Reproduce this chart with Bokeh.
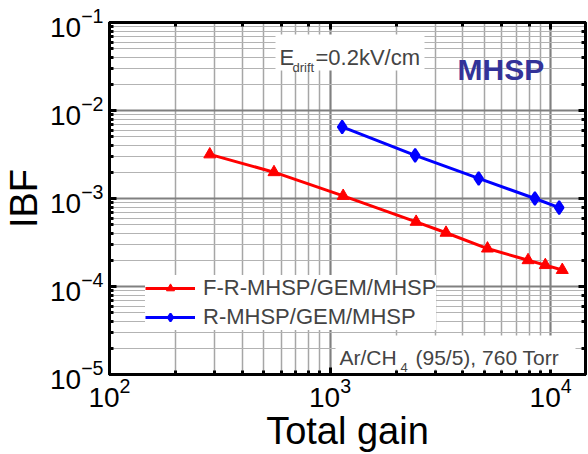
from bokeh.plotting import figure
from bokeh.models import (Range1d, LogAxis, Label, Legend, LegendItem, BoxAnnotation)
from bokeh.embed import file_html
from bokeh.resources import INLINE

FONT = "Liberation Sans"

# ---- data ----
red_gain = [285, 557, 1147, 2457, 3357, 5175, 7905, 9465, 11300]
red_ibf = [3.17e-3, 1.99e-3, 1.07e-3, 5.43e-4, 4.08e-4, 2.70e-4, 1.99e-4, 1.75e-4, 1.54e-4]
red_label = "F-R-MHSP/GEM/MHSP"

blue_gain = [1135, 2432, 4720, 8490, 10940]
blue_ibf = [6.5e-3, 3.09e-3, 1.69e-3, 1.00e-3, 7.87e-4]
blue_label = "R-MHSP/GEM/MHSP"

x_title = "Total gain"
y_title = "IBF"

x_min, x_max = 100, 14400
y_min, y_max = 1e-5, 1e-1

p = figure(width=588, height=454, x_axis_type="log", y_axis_type="log",
           x_range=Range1d(x_min, x_max), y_range=Range1d(y_min, y_max),
           output_backend="svg", toolbar_location=None,
           min_border_left=107, min_border_right=3, min_border_top=22, min_border_bottom=77)
p.background_fill_color = "white"
p.border_fill_color = "white"
p.outline_line_color = "black"
p.outline_line_width = 3

# grids
for g in (p.xgrid[0], p.ygrid[0]):
    g.grid_line_color = "#808080"
    g.grid_line_width = 2
p.xgrid.minor_grid_line_color = "#a6a6a6"
p.xgrid.minor_grid_line_width = 1.5
p.ygrid.minor_grid_line_color = "#b3b3b3"
p.ygrid.minor_grid_line_width = 1

bottom_ax = p.below[0]
left_ax = p.left[0]
top_ax = LogAxis()
right_ax = LogAxis()
p.add_layout(top_ax, "above")
p.add_layout(right_ax, "right")
for ax in (bottom_ax, left_ax, top_ax, right_ax):
    ax.axis_line_width = 3
    ax.axis_line_color = "black"
    ax.major_tick_in = 7
    ax.major_tick_out = 0
    ax.major_tick_line_width = 3
    ax.minor_tick_in = 4
    ax.minor_tick_out = 0
    ax.minor_tick_line_width = 3
    ax.major_label_text_font = FONT
    ax.major_label_text_font_size = "28px"
    ax.major_label_text_color = "black"
for ax in (top_ax, right_ax):
    ax.major_label_text_font_size = "0px"
    ax.major_label_text_color = None
    ax.axis_label = None

bottom_ax.major_label_standoff = 3
left_ax.major_label_standoff = 6
bottom_ax.axis_label = x_title
left_ax.axis_label = y_title
for ax in (bottom_ax, left_ax):
    ax.axis_label_text_font = FONT
    ax.axis_label_text_font_size = "38px"
    ax.axis_label_text_font_style = "normal"
    ax.axis_label_text_color = "black"
bottom_ax.axis_label_standoff = 0
left_ax.axis_label_standoff = 2

# white boxes behind annotations
p.add_layout(BoxAnnotation(left=166, right=315, top=340, bottom=304,
                           left_units="screen", right_units="screen",
                           top_units="screen", bottom_units="screen",
                           fill_color="white", fill_alpha=1, line_color=None))
p.add_layout(BoxAnnotation(left=226, right=466, top=39, bottom=5,
                           left_units="screen", right_units="screen",
                           top_units="screen", bottom_units="screen",
                           fill_color="white", fill_alpha=1, line_color=None))

# data
rl = p.line(red_gain, red_ibf, line_color="#ff0000", line_width=3)
rs = p.scatter(red_gain, red_ibf, marker="triangle", size=12,
               fill_color="#ff0000", line_color="#ff0000")
bl = p.line(blue_gain, blue_ibf, line_color="#0000ff", line_width=3)
bs = p.scatter(blue_gain, blue_ibf, marker="diamond", size=13,
               fill_color="#0000ff", line_color="#0000ff", line_width=2)

legend = Legend(items=[LegendItem(label=red_label, renderers=[rl, rs]),
                       LegendItem(label=blue_label, renderers=[bl, bs])],
                location=(36, 44), glyph_width=50, glyph_height=20, label_height=20,
                spacing=3, padding=4, margin=0, label_standoff=8,
                label_text_font=FONT, label_text_font_size="22px",
                border_line_color=None, background_fill_color="white",
                background_fill_alpha=1)
p.add_layout(legend)

# annotations
def scr(x, y, text, size, **kw):
    p.add_layout(Label(x=x, y=y, x_units="screen", y_units="screen", text=text,
                       text_font=FONT, text_font_size=size, text_align="left",
                       text_baseline="alphabetic", **kw))

scr(170, 317, "E", "22px")
scr(183, 307, "drift", "13px")
scr(206, 317, "=0.2kV/cm", "22px")
scr(348, 305, "MHSP", "30px", text_font_style="bold", text_color="#333399")
scr(230, 17, "Ar/CH", "21px")
scr(291, 7, "4", "13px")
scr(306, 17, "(95/5), 760 Torr", "21px")

open("out.html", "w").write(file_html(p, INLINE))
